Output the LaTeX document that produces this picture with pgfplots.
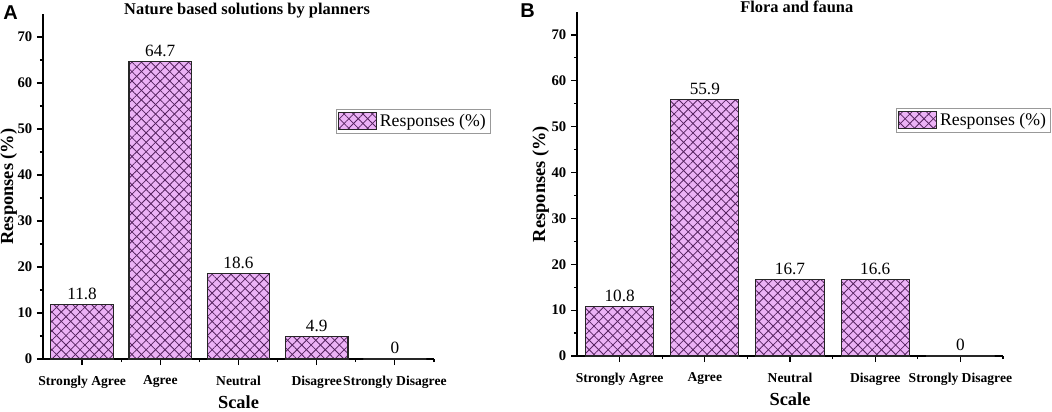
\documentclass[border=0pt]{standalone}
\usepackage{fontspec}
\setmainfont{Liberation Serif}
\newfontfamily\arialfont{Liberation Sans}
\usepackage{pgfplots}
\pgfplotsset{compat=1.18}
\usetikzlibrary{patterns.meta}
\definecolor{barfill}{RGB}{236,178,246}
\definecolor{hatch}{RGB}{85,35,95}

\pgfplotsset{
  panel/.style={
    scale only axis, anchor=south west,
    xmin=0.5, xmax=5.5, ymin=0, ymax=75,
    enlargelimits=false, clip=false,
    axis x line=bottom, axis y line=left,
    axis line style={-, line width=1.1pt, black},
    tick align=outside,
    major tick length=4.5pt, minor tick length=2.4pt,
    every tick/.style={black, line width=0.9pt},
    xtick={1,2,3,4,5},
    minor xtick={1.5,2.5,3.5,4.5,5.5},
    xticklabels={Strongly Agree, Agree, Neutral, Disagree, Strongly Disagree},
    ytick={0,10,...,70},
    minor ytick={5,15,...,65},
    /pgf/number format/assume math mode=true,
    xticklabel style={font=\fontsize{10.2}{12}\selectfont\bfseries, yshift=-4.5pt},
    yticklabel style={font=\fontsize{11}{12}\selectfont\bfseries},
    xlabel={Scale},
    ylabel={Responses (\%)},
    label style={font=\fontsize{13.8}{16}\selectfont\bfseries},
    xlabel style={at={(axis description cs:0.5,0)}, anchor=base, yshift=-37pt},
    title style={font=\fontsize{12.3}{14}\selectfont\bfseries, anchor=base, yshift=-6.5pt},
    ybar, bar width=0.8,
    nodes near coords,
    every node near coord/.append style={font=\fontsize{12.9}{14}\selectfont, text=black},
    legend image code/.code={\draw[##1] (0pt,-6.5pt) rectangle (28.5pt,6.5pt);},
    legend style={anchor=north west, draw=gray!80, line width=0.5pt,
      font=\fontsize{13.3}{15}\selectfont, inner xsep=1.5pt, inner ysep=1.5pt,
      /tikz/every even column/.append style={column sep=0pt}},
  },
  mybar/.style={
    draw=black!85, line width=0.8pt, fill=barfill,
    postaction={pattern={Lines[angle=45,distance=5pt,line width=0.6pt]}, pattern color=hatch},
    postaction={pattern={Lines[angle=-45,distance=5pt,line width=0.6pt]}, pattern color=hatch},
  },
}

\begin{document}
\begin{tikzpicture}
\useasboundingbox (0,0) rectangle (789pt,308.25pt);

\begin{axis}[panel,
  at={(32.25pt,39pt)}, width=293.25pt, height=258.75pt,
  title={Nature based solutions by planners},
  title style={at={(axis description cs:0.522,1)}},
  ylabel style={at={(axis description cs:-0.0767,0.5)}, anchor=base},
  legend style={at={(axis description cs:0.749,0.725)}},
]
\addplot[mybar] coordinates {(1,11.8) (2,64.7) (3,18.6) (4,4.9) (5,0)};
\addlegendentry{Responses (\%)}
\end{axis}

\begin{axis}[panel,
  at={(432.75pt,41.25pt)}, width=319.5pt, height=258pt,
  title={Flora and fauna},
  title style={at={(axis description cs:0.516,1)}},
  ylabel style={at={(axis description cs:-0.0751,0.5)}, anchor=base},
  legend style={at={(axis description cs:0.749,0.721)}},
]
\addplot[mybar] coordinates {(1,10.8) (2,55.9) (3,16.7) (4,16.6) (5,0)};
\addlegendentry{Responses (\%)}
\end{axis}

\node[font=\arialfont\fontsize{15}{18}\selectfont\bfseries, anchor=north west, inner sep=0pt] at (2.25pt,304.5pt) {A};
\node[font=\arialfont\fontsize{15}{18}\selectfont\bfseries, anchor=north west, inner sep=0pt] at (390pt,306pt) {B};
\end{tikzpicture}
\end{document}
